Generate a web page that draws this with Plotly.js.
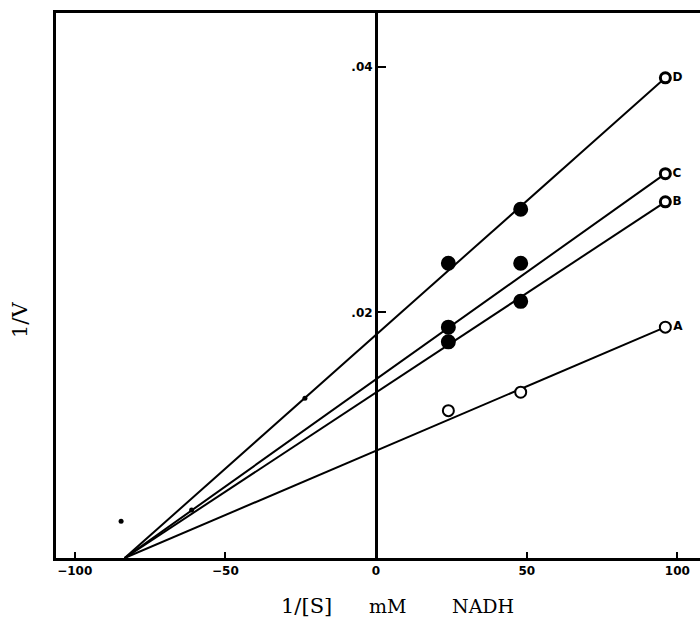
<!DOCTYPE html>
<html>
<head>
<meta charset="utf-8">
<script src="https://cdn.plot.ly/plotly-3.0.1.min.js"></script>
<style>html,body{margin:0;padding:0;background:#fff;}#chart{width:700px;height:635px;}</style>
</head>
<body>
<div id="chart"></div>
<script>
// 1/[S] values (mM^-1 NADH)
const invS = [24, 48, 96];
// 1/V measured values
const seriesNames = ['A', 'B', 'C', 'D'];
const valuesA = [0.0120, 0.0135, 0.0188];
const valuesB = [0.0176, 0.0209, 0.0290];
const valuesC = [0.0188, 0.0240, 0.0313];
const valuesD = [0.0240, 0.0284, 0.0391];
// fitted lines: common x-intercept and end point
const lineX = [-83.4, 96];
const lineA = [0, 0.0188];
const lineB = [0, 0.0290];
const lineC = [0, 0.0313];
const lineD = [0, 0.0391];
// extra small dots
const extraX = [-23.6, -61.2, -84.6];
const extraY = [0.0130, 0.0039, 0.0030];
// ticks
const xTicks = [-100, -50, 0, 50, 100];
const yTickVals = [0.02, 0.04];
const yTickText = ['.02', '.04'];

const seriesVals = [valuesA, valuesB, valuesC, valuesD];
const lineVals = [lineA, lineB, lineC, lineD];

const traces = [];
lineVals.forEach(ly => {
  traces.push({x: lineX, y: ly, mode: 'lines', line: {color: '#000', width: 2}, hoverinfo: 'skip', showlegend: false});
});
seriesVals.forEach((vals, k) => {
  const isA = k === 0;
  traces.push({
    x: invS, y: vals, mode: 'markers+text',
    text: invS.map((_, i) => i === invS.length - 1 ? seriesNames[k] : ''),
    textposition: 'middle right',
    textfont: {family: 'DejaVu Sans', size: 12, color: '#000', weight: 'bold'},
    marker: {
      opacity: 1,
      size: isA ? 11 : invS.map((_, i) => i === invS.length - 1 ? 10 : 12),
      color: isA ? '#fff' : invS.map((_, i) => i === invS.length - 1 ? '#fff' : '#000'),
      line: {color: '#000', width: isA ? 2 : 3}
    },
    showlegend: false
  });
});
traces.push({x: extraX, y: extraY, mode: 'markers', marker: {size: 5, color: '#000', opacity: 1}, showlegend: false});

const W = 644;
const titleY = (558 - 606) / 545;
const layout = {
  width: 700, height: 635,
  margin: {l: 56, r: 0, t: 13, b: 77},
  paper_bgcolor: '#fff', plot_bgcolor: '#fff',
  showlegend: false,
  xaxis: {
    range: [-106.2, 107.5], tickvals: xTicks, ticks: 'inside', ticklen: 6, tickwidth: 2, tickcolor: '#000',
    showline: true, linewidth: 3, linecolor: '#000', mirror: true,
    showgrid: false, zeroline: false,
    tickfont: {family: 'DejaVu Sans', size: 12, color: '#000', weight: 'bold'}
  },
  yaxis: {
    range: [0, 0.04438], anchor: 'free', position: 320 / W,
    tickvals: yTickVals, ticktext: yTickText, ticks: 'inside', ticklen: 8, tickwidth: 2, tickcolor: '#000',
    showline: true, linewidth: 3, linecolor: '#000',
    showgrid: false, zeroline: false,
    tickfont: {family: 'DejaVu Sans', size: 12, color: '#000', weight: 'bold'}
  },
  yaxis2: {
    range: [0, 0.04438], overlaying: 'y', anchor: 'x', side: 'left',
    showline: true, linewidth: 3, linecolor: '#000', showticklabels: false, ticks: '',
    showgrid: false, zeroline: false
  },
  annotations: [
    {text: '1/V', xref: 'paper', yref: 'paper', x: (20 - 56) / W, y: (558 - 320) / 545, textangle: -90,
     xanchor: 'center', yanchor: 'middle',
     showarrow: false, font: {family: 'DejaVu Serif', size: 21, color: '#000'}},
    {text: '1/[S]', xref: 'paper', yref: 'paper', x: (306 - 56) / W, y: titleY, xanchor: 'center', yanchor: 'middle',
     showarrow: false, font: {family: 'DejaVu Serif', size: 21, color: '#000'}},
    {text: 'mM', xref: 'paper', yref: 'paper', x: (387 - 56) / W, y: titleY, xanchor: 'center', yanchor: 'middle',
     showarrow: false, font: {family: 'DejaVu Serif', size: 19, color: '#000'}},
    {text: 'NADH', xref: 'paper', yref: 'paper', x: (483 - 56) / W, y: titleY, xanchor: 'center', yanchor: 'middle',
     showarrow: false, font: {family: 'DejaVu Serif', size: 19, color: '#000'}}
  ]
};
traces.push({x: [0], y: [0], yaxis: 'y2', mode: 'markers', marker: {opacity: 0}, hoverinfo: 'skip', showlegend: false});

Plotly.newPlot('chart', traces, layout, {displayModeBar: false, staticPlot: true});
</script>
</body>
</html>
